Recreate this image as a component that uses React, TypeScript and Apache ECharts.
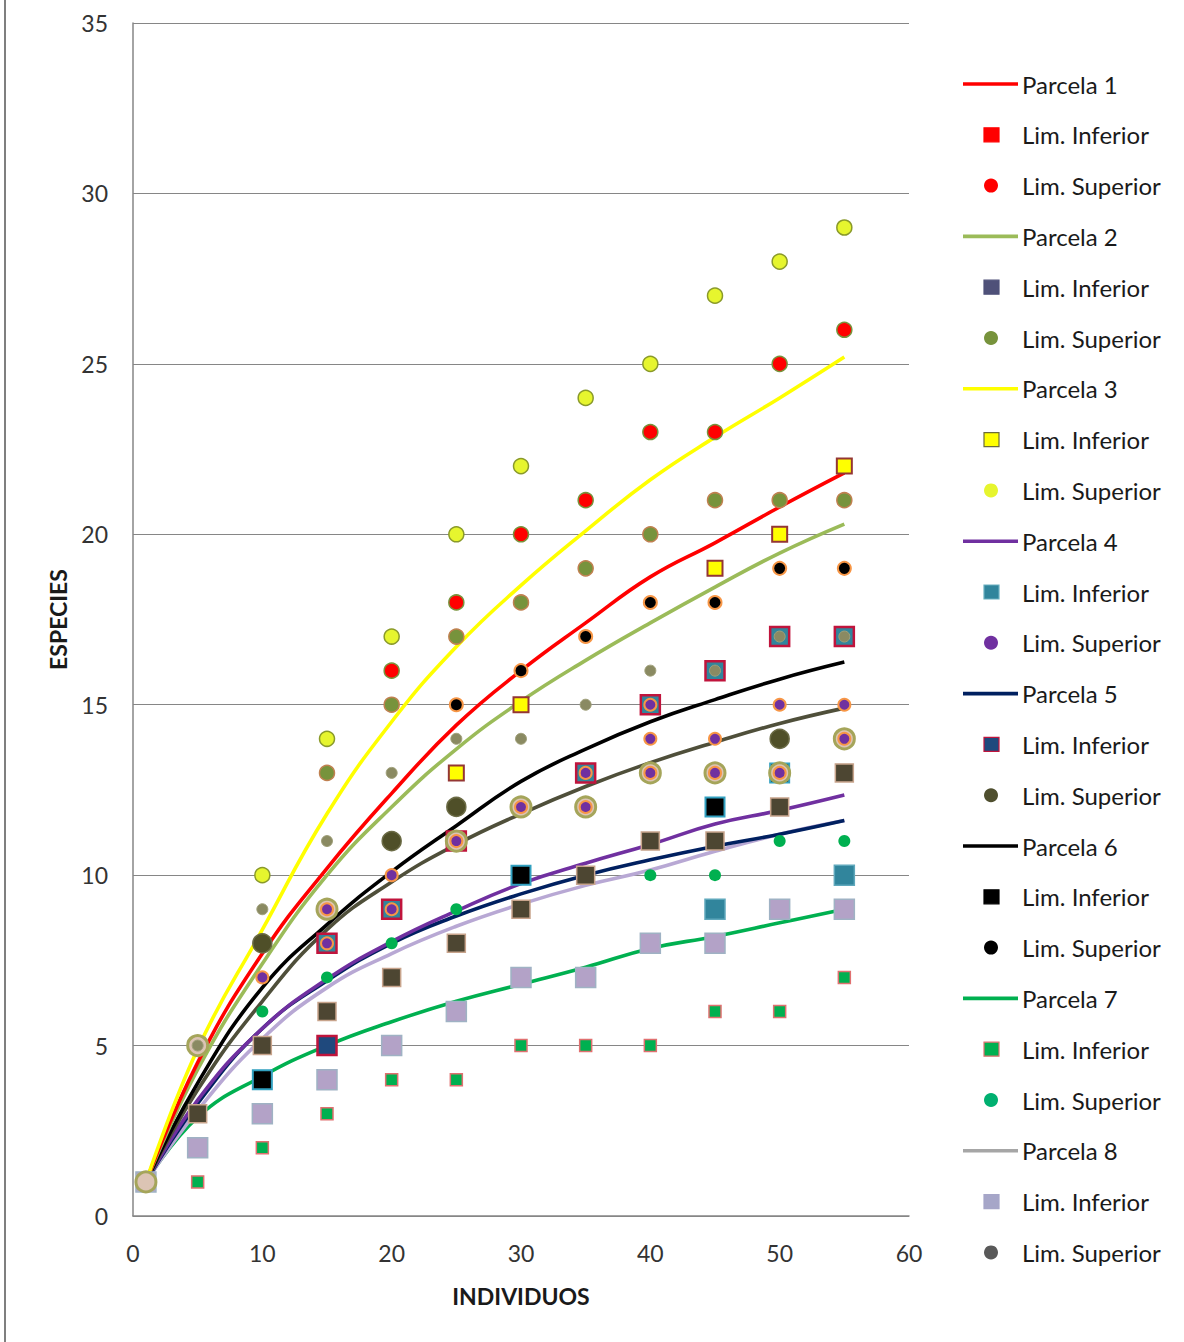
import React, { useEffect, useRef } from "react";
import * as echarts from "echarts";

// ---- data ----
const xPoints = [1, 5, 10, 15, 20, 25, 30, 35, 40, 45, 50, 55];
const parcela1 = [1, 4.5, 7.7, 10.2, 12.4, 14.4, 16.0, 17.4, 18.75, 19.75, 20.8, 21.8];
const parcela2 = [1, 4.3, 7.4, 10.0, 12.0, 13.7, 15.1, 16.3, 17.4, 18.45, 19.45, 20.3];
const parcela3 = [1, 4.9, 8.4, 11.8, 14.5, 16.7, 18.5, 20.1, 21.6, 22.85, 24.0, 25.2];
const parcela4 = [1, 3.4, 5.5, 6.95, 8.05, 8.95, 9.75, 10.35, 10.9, 11.5, 11.9, 12.35];
const parcela5 = [1, 3.3, 5.5, 6.9, 8.0, 8.8, 9.45, 10.0, 10.45, 10.85, 11.2, 11.6];
const parcela6 = [1, 3.9, 6.7, 8.55, 10.1, 11.45, 12.75, 13.7, 14.5, 15.15, 15.75, 16.25];
const parcela7 = [1, 2.9, 4.1, 5.0, 5.7, 6.3, 6.8, 7.3, 7.85, 8.2, 8.6, 9.0];
const parcela8 = [1, 3.1, 5.2, 6.7, 7.7, 8.5, 9.15, 9.7, 10.15, 10.7, 11.2, 11.6];
const parcelaExtra = [1, 3.7, 6.3, 8.4, 9.8, 10.9, 11.8, 12.6, 13.3, 13.9, 14.45, 14.9];

const p1Inf = [[15, 8], [20, 9], [25, 11], [35, 13], [40, 15], [45, 16], [50, 17], [55, 17]];
const p1Sup = [[20, 16], [25, 18], [30, 20], [35, 21], [40, 23], [45, 23], [50, 25], [55, 26]];
const p2Sup = [[15, 13], [20, 15], [25, 17], [30, 18], [35, 19], [40, 20], [45, 21], [50, 21], [55, 21]];
const p3Inf = [[25, 13], [30, 15], [45, 19], [50, 20], [55, 22]];
const p3Sup = [[10, 10], [15, 14], [20, 17], [25, 20], [30, 22], [35, 24], [40, 25], [45, 27], [50, 28], [55, 29]];
const p4Inf = [[45, 9], [55, 10]];
const p4Sup = [[10, 7], [15, 8], [15, 9], [20, 9], [20, 10], [25, 11], [30, 12], [35, 12], [35, 13], [40, 13], [40, 14], [40, 15], [45, 13], [45, 14], [50, 13], [50, 15], [55, 14], [55, 15]];
const p5Inf = [[15, 5]];
const p5Sup = [[10, 8], [20, 11], [25, 12], [50, 14]];
const p6Inf = [[10, 4], [30, 10], [45, 12], [50, 13]];
const p6Sup = [[25, 15], [30, 16], [35, 17], [40, 18], [45, 18], [50, 19], [55, 19]];
const p7Inf = [[5, 1], [10, 2], [15, 3], [20, 4], [25, 4], [30, 5], [35, 5], [40, 5], [45, 6], [50, 6], [55, 7]];
const p7Sup = [[10, 6], [15, 7], [20, 8], [25, 9], [40, 10], [45, 10], [50, 11], [55, 11]];
const p8Inf = [[1, 1], [5, 2], [10, 3], [15, 4], [20, 5], [25, 6], [30, 7], [35, 7], [40, 8], [45, 8], [50, 9], [55, 9]];
const p8Sup = [[5, 5], [10, 9], [15, 11], [20, 13], [25, 14], [30, 14], [35, 15], [40, 16], [45, 16], [50, 17], [55, 17]];
const extraInf = [[5, 3], [10, 5], [15, 6], [20, 7], [25, 8], [30, 9], [35, 10], [40, 11], [45, 11], [50, 12], [55, 13]];
const extraSup = [[1, 1], [5, 5], [15, 9], [25, 11], [30, 12], [35, 12], [40, 13], [45, 13], [50, 13], [55, 14]];

const yTicks = [0, 5, 10, 15, 20, 25, 30, 35];
const xTicks = [0, 10, 20, 30, 40, 50, 60];
const legendLabels = ["Parcela 1", "Lim. Inferior", "Lim. Superior", "Parcela 2", "Lim. Inferior", "Lim. Superior", "Parcela 3", "Lim. Inferior", "Lim. Superior", "Parcela 4", "Lim. Inferior", "Lim. Superior", "Parcela 5", "Lim. Inferior", "Lim. Superior", "Parcela 6", "Lim. Inferior", "Lim. Superior", "Parcela 7", "Lim. Inferior", "Lim. Superior", "Parcela 8", "Lim. Inferior", "Lim. Superior"];

const FONT = "Lato, 'Open Sans', sans-serif";

export default function App() {
  const ref = useRef<HTMLDivElement>(null);
  useEffect(() => {
    const chart = echarts.init(ref.current!, null, { renderer: "svg" });

    const ln = (name: string, vals: number[], color: string, width = 3.6) => ({
      name,
      type: "line",
      data: xPoints.map((x, i) => [x, vals[i]]),
      smooth: 0.45,
      showSymbol: false,
      symbol: "none",
      lineStyle: { color, width },
      z: 2,
    });
    const sc = (name: string, data: number[][], symbol: string, size: number, color: string, border: string, bw: number, z: number) => ({
      name,
      type: "scatter",
      data,
      symbol,
      symbolSize: size,
      itemStyle: { color, borderColor: border, borderWidth: bw, opacity: 1 },
      z,
    });

    const series: any[] = [
      ln("Parcela 7", parcela7, "#00B050"),
      ln("Parcela 8", parcela8, "#B8A8D4"),
      ln("Parcela 5", parcela5, "#002060"),
      ln("Parcela 4", parcela4, "#7030A0"),
      ln("Parcela extra", parcelaExtra, "#4F4F3A"),
      ln("Parcela 6", parcela6, "#000000"),
      ln("Parcela 2", parcela2, "#9BBB59"),
      ln("Parcela 1", parcela1, "#FF0000"),
      ln("Parcela 3", parcela3, "#FFFF00"),
      sc("P8 Lim. Inferior", p8Inf, "rect", 20, "#B3A2C7", "#9FB2C4", 1.5, 3),
      sc("Extra Lim. Inferior", extraInf, "rect", 18, "#4D4632", "#C8A48C", 1.5, 3),
      sc("P1 Lim. Inferior", p1Inf, "rect", 19, "#31859C", "#C0143C", 2.5, 3),
      sc("P4 Lim. Inferior", p4Inf, "rect", 20, "#31859C", "#5FA8BC", 1.5, 3),
      sc("P5 Lim. Inferior", p5Inf, "rect", 19, "#1F497D", "#C0143C", 2.5, 3),
      sc("P6 Lim. Inferior", p6Inf, "rect", 19, "#000000", "#31A0C0", 2, 3),
      sc("P3 Lim. Inferior", p3Inf, "rect", 15, "#FFFF00", "#943634", 2, 4),
      sc("P7 Lim. Inferior", p7Inf, "rect", 12, "#00B050", "#E07070", 1.5, 4),
      sc("Extra Lim. Superior", extraSup, "circle", 20, "#DCC4B4", "#A5A55A", 3, 5),
      sc("P5 Lim. Superior", p5Sup, "circle", 19, "#4F4F28", "#6B6B45", 1.5, 5),
      sc("P8 Lim. Superior", p8Sup, "circle", 11, "#8A8A62", "#A0A07A", 1, 5),
      sc("P2 Lim. Superior", p2Sup, "circle", 15, "#77933C", "#C08050", 1.5, 6),
      sc("P1 Lim. Superior", p1Sup, "circle", 15, "#FF0000", "#77933C", 1.5, 6),
      sc("P3 Lim. Superior", p3Sup, "circle", 15, "#E6F52E", "#8A9A2A", 1.5, 6),
      sc("P4 Lim. Superior", p4Sup, "circle", 12, "#7030A0", "#F79646", 2, 7),
      sc("P6 Lim. Superior", p6Sup, "circle", 13, "#000000", "#F79646", 2, 7),
      sc("P7 Lim. Superior", p7Sup, "circle", 12, "#00B050", "#00B050", 0, 7),
    ];

    // legend as graphic elements
    const legendIcons: any[] = [
      { k: "line", c: "#FF0000" }, { k: "rect", c: "#FF0000", b: "#FF0000" }, { k: "circle", c: "#FF0000" },
      { k: "line", c: "#9BBB59" }, { k: "rect", c: "#4F5179", b: "#4F5179" }, { k: "circle", c: "#77933C" },
      { k: "line", c: "#FFFF00" }, { k: "rect", c: "#FFFF00", b: "#6B6B3A" }, { k: "circle", c: "#E6F52E" },
      { k: "line", c: "#7030A0" }, { k: "rect", c: "#31859C", b: "#6AB0C0" }, { k: "circle", c: "#7030A0" },
      { k: "line", c: "#002060" }, { k: "rect", c: "#1F497D", b: "#C0143C" }, { k: "circle", c: "#4F4F2F" },
      { k: "line", c: "#000000" }, { k: "rect", c: "#000000", b: "#000000" }, { k: "circle", c: "#000000" },
      { k: "line", c: "#00B050" }, { k: "rect", c: "#00B050", b: "#E07070" }, { k: "circle", c: "#00B070" },
      { k: "line", c: "#A6A6A6" }, { k: "rect", c: "#A6A6C8", b: "#A6A6C8" }, { k: "circle", c: "#595959" },
    ];
    const graphic: any[] = [
      { type: "line", shape: { x1: 5, y1: 0, x2: 5, y2: 1342 }, style: { stroke: "#7F7F7F", lineWidth: 2 } },
    ];
    legendLabels.forEach((label, i) => {
      const y = 84 + i * 50.8;
      const ic = legendIcons[i];
      if (ic.k === "line") {
        graphic.push({ type: "line", shape: { x1: 963, y1: y, x2: 1018, y2: y }, style: { stroke: ic.c, lineWidth: 3.6 } });
      } else if (ic.k === "rect") {
        graphic.push({ type: "rect", shape: { x: 984, y: y - 7, width: 15, height: 14 }, style: { fill: ic.c, stroke: ic.b, lineWidth: 1.2 } });
      } else {
        graphic.push({ type: "circle", shape: { cx: 991, cy: y, r: 7 }, style: { fill: ic.c } });
      }
      graphic.push({
        type: "text",
        x: 1022,
        y,
        style: { text: label, fill: "#1A1A1A", font: `24px ${FONT}`, textVerticalAlign: "middle", textAlign: "left" },
      });
    });

    const option: any = {
      animation: false,
      backgroundColor: "#FFFFFF",
      grid: { left: 133, right: 275, top: 23, bottom: 126, containLabel: false },
      xAxis: {
        type: "value",
        min: xTicks[0],
        max: xTicks[xTicks.length - 1],
        interval: 10,
        name: "INDIVIDUOS",
        nameLocation: "middle",
        nameGap: 68,
        nameTextStyle: { fontFamily: FONT, fontSize: 23, fontWeight: "bold", color: "#1A1A1A" },
        axisLine: { show: true, lineStyle: { color: "#868686", width: 1.5 } },
        axisTick: { show: false },
        splitLine: { show: false },
        axisLabel: { fontFamily: FONT, fontSize: 23, color: "#333333", margin: 25 },
      },
      yAxis: {
        type: "value",
        min: yTicks[0],
        max: yTicks[yTicks.length - 1],
        interval: 5,
        name: "ESPECIES",
        nameLocation: "middle",
        nameGap: 64,
        nameTextStyle: { fontFamily: FONT, fontSize: 23, fontWeight: "bold", color: "#1A1A1A" },
        axisLine: { show: true, lineStyle: { color: "#868686", width: 1.5 } },
        axisTick: { show: false },
        splitLine: { show: true, lineStyle: { color: "#868686", width: 1 } },
        axisLabel: { fontFamily: FONT, fontSize: 23, color: "#333333", margin: 25 },
      },
      series,
      graphic,
    };
    chart.setOption(option);
    return () => chart.dispose();
  }, []);
  return (
    <div
      ref={ref}
      style={{ position: "absolute", left: 0, top: 0, width: 1184, height: 1342, background: "#FFFFFF" }}
    />
  );
}
